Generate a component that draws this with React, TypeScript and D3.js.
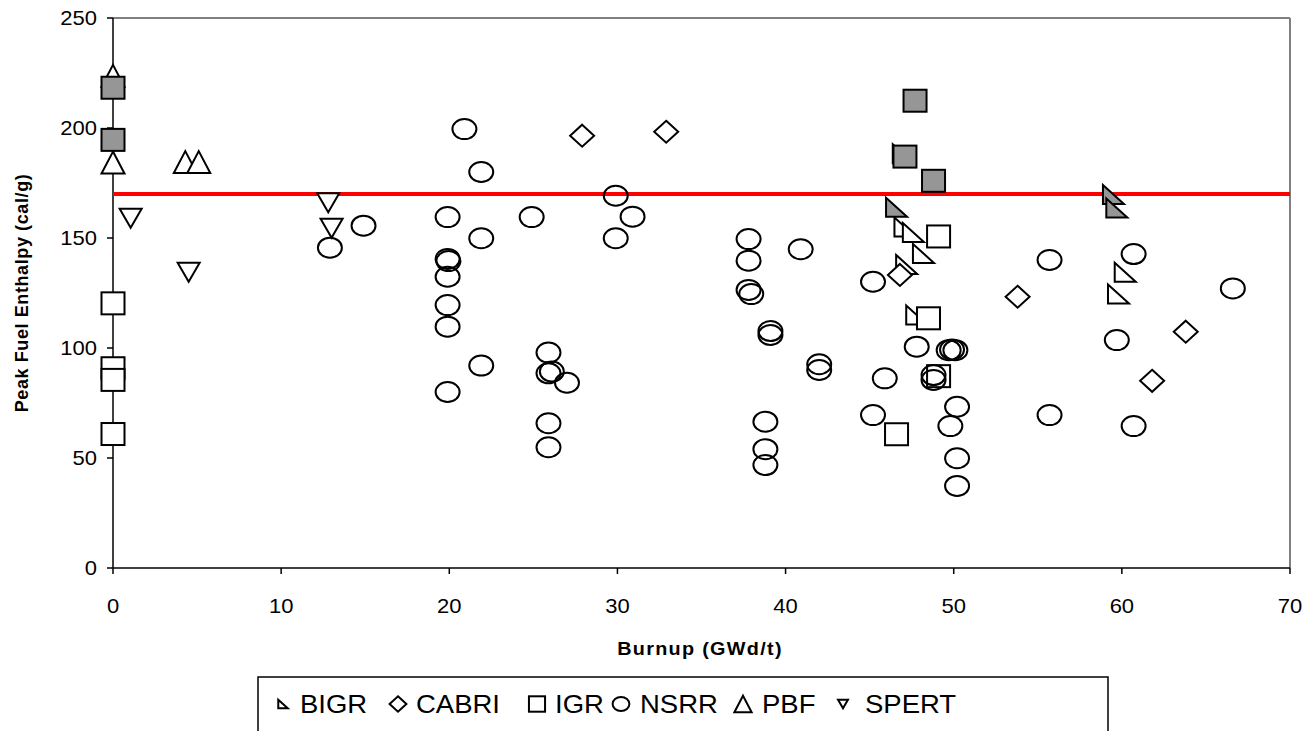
import React from 'react';
import * as d3 from 'd3';

type Pt = [number, number];

const xTicks = [0, 10, 20, 30, 40, 50, 60, 70];
const yTicks = [0, 50, 100, 150, 200, 250];
const limitValue = 170;
const xTitle = 'Burnup (GWd/t)';
const yTitle = 'Peak Fuel Enthalpy (cal/g)';
const seriesNames = ['BIGR', 'CABRI', 'IGR', 'NSRR', 'PBF', 'SPERT'];

const bigr: Pt[] = [
  [47.1, 155], [47.6, 152.5], [48.2, 143], [47.2, 138], [47.8, 115], [60.2, 134.4], [59.8, 124.5],
];
const bigrFail: Pt[] = [
  [47.0, 188.3], [46.6, 164], [59.5, 169.8], [59.7, 163.6],
];
const cabri: Pt[] = [
  [27.9, 196.5], [32.9, 198.3], [46.8, 133.2], [53.8, 123.3], [63.8, 107.4], [61.8, 85.1],
];
const igr: Pt[] = [
  [0, 120.3], [0, 90.8], [0, 85.5], [0, 60.9], [49.1, 150.7], [48.5, 113.5], [49.1, 87.2], [46.6, 60.8],
];
const igrFail: Pt[] = [
  [0, 218.3], [0, 194.6], [47.7, 212.4], [47.1, 187], [48.8, 176],
];
const nsrr: Pt[] = [
  [12.9, 145.6], [14.9, 155.6], [20.9, 199.5], [21.9, 180], [19.9, 159.5], [24.9, 159.5], [21.9, 149.9],
  [19.9, 140.5], [19.95, 139.5], [19.9, 132.4], [19.9, 119.5], [19.9, 109.7], [21.9, 92], [19.9, 80],
  [25.9, 97.9], [25.9, 88.5], [26.1, 89.3], [27.0, 84.2], [25.9, 65.8], [25.9, 54.9],
  [29.9, 169.2], [30.9, 159.7], [29.9, 149.9], [37.8, 149.5], [37.8, 139.7], [37.8, 126.4], [37.96, 124.5],
  [40.9, 144.9], [39.1, 107.7], [39.1, 105.9], [42.0, 92.6], [42.0, 90], [38.8, 66.5], [38.8, 54], [38.8, 46.8],
  [45.2, 130.1], [47.8, 100.6], [49.7, 99], [49.9, 99.3], [50.1, 99], [45.9, 86.2], [48.8, 87.7], [48.8, 85.5],
  [45.2, 69.5], [50.2, 73.3], [49.8, 64.5], [50.2, 49.9], [50.2, 37.3],
  [55.7, 140], [60.7, 142.7], [66.6, 127.1], [59.7, 103.6], [55.7, 69.5], [60.7, 64.5],
];
const pbf: Pt[] = [
  [0, 223.7], [0, 184.3], [4.3, 184.5], [5.1, 184.5],
];
const spert: Pt[] = [
  [1.05, 159], [12.8, 166], [13.0, 154.4], [4.5, 134.4],
];

const FONT = '"Liberation Sans", Arial, sans-serif';
const SW = 2;
const GRAY = '#969696';
const SX = 1.1;

function marker(kind: string, cx: number, cy: number, key: string | number, fill = 'white', scale = 1) {
  const s = scale;
  switch (kind) {
    case 'circle':
      return <ellipse key={key} cx={cx} cy={cy} rx={12 * s} ry={10 * s} fill="none" stroke="black" strokeWidth={SW} />;
    case 'square':
      return <rect key={key} x={cx - 11.5 * s} y={cy - 11 * s} width={23 * s} height={22 * s} fill={fill} stroke="black" strokeWidth={SW} />;
    case 'diamond':
      return <path key={key} d={`M${cx},${cy - 11 * s}L${cx + 12 * s},${cy}L${cx},${cy + 11 * s}L${cx - 12 * s},${cy}Z`} fill={fill} stroke="black" strokeWidth={SW} />;
    case 'up':
      return <path key={key} d={`M${cx},${cy - 11 * s}L${cx + 11.5 * s},${cy + 11 * s}L${cx - 11.5 * s},${cy + 11 * s}Z`} fill={fill} stroke="black" strokeWidth={SW} />;
    case 'down':
      return <path key={key} d={`M${cx - 11 * s},${cy - 9.5 * s}L${cx + 11 * s},${cy - 9.5 * s}L${cx},${cy + 9.5 * s}Z`} fill={fill} stroke="black" strokeWidth={SW} />;
    case 'right':
      return <path key={key} d={`M${cx - 10.5 * s},${cy - 9.5 * s}L${cx - 10.5 * s},${cy + 9.5 * s}L${cx + 10.5 * s},${cy + 9.5 * s}Z`} fill={fill} stroke="black" strokeWidth={SW} />;
  }
  return null;
}

export default function App() {
  const W = 1312, H = 731;
  const left = 113, right = 1290, top = 18, bottom = 568;
  const x = d3.scaleLinear().domain([0, 70]).range([left, right]);
  const y = d3.scaleLinear().domain([0, 250]).range([bottom, top]);

  const series: { data: Pt[]; kind: string; fill: string }[] = [
    { data: bigr, kind: 'right', fill: 'white' },
    { data: cabri, kind: 'diamond', fill: 'white' },
    { data: igr, kind: 'square', fill: 'white' },
    { data: nsrr, kind: 'circle', fill: 'none' },
    { data: pbf, kind: 'up', fill: 'white' },
    { data: spert, kind: 'down', fill: 'white' },
    { data: bigrFail, kind: 'right', fill: GRAY },
    { data: igrFail, kind: 'square', fill: GRAY },
  ];

  const legendItems = [
    { kind: 'right', scale: 0.45, mx: 283, tx: 300 },
    { kind: 'diamond', scale: 0.7, mx: 398, tx: 416 },
    { kind: 'square', scale: 0.7, mx: 537, tx: 555 },
    { kind: 'circle', scale: 0.7, mx: 621, tx: 640 },
    { kind: 'up', scale: 0.75, mx: 743, tx: 762 },
    { kind: 'down', scale: 0.45, mx: 843, tx: 865 },
  ];
  const legendY = 704;

  return (
    <div style={{ position: 'fixed', left: 0, top: 0, width: W, height: H, background: 'white' }}>
      <svg width={W} height={H} style={{ display: 'block' }} fontFamily={FONT}>
        <rect x={0} y={0} width={W} height={H} fill="white" />
        <line x1={left} y1={top} x2={right} y2={top} stroke="#808080" strokeWidth={2} />
        <line x1={right} y1={top} x2={right} y2={bottom} stroke="#808080" strokeWidth={2} />
        <line x1={left} y1={top} x2={left} y2={bottom} stroke="black" strokeWidth={1.5} />
        <line x1={left} y1={bottom} x2={right} y2={bottom} stroke="black" strokeWidth={1.5} />
        {yTicks.map((t) => (
          <g key={'yt' + t}>
            <line x1={left - 6} x2={left} y1={y(t)} y2={y(t)} stroke="black" strokeWidth={1.5} />
            <text transform={`translate(${left - 16},${y(t)}) scale(${SX},1)`} dy="0.36em" textAnchor="end" fontSize={20}>{t}</text>
          </g>
        ))}
        {xTicks.map((t) => (
          <g key={'xt' + t}>
            <line x1={x(t)} x2={x(t)} y1={bottom} y2={bottom + 6} stroke="black" strokeWidth={1.5} />
            <text transform={`translate(${x(t)},606) scale(${SX},1)`} dy="0.36em" textAnchor="middle" fontSize={20}>{t}</text>
          </g>
        ))}
        <text transform={`translate(700,649) scale(${SX},1)`} dy="0.36em" textAnchor="middle" fontSize={18} fontWeight="bold" letterSpacing={1.2}>{xTitle}</text>
        <text transform={`translate(22,${(top + bottom) / 2}) rotate(-90)`} dy="0.36em" textAnchor="middle" fontSize={18} fontWeight="bold" letterSpacing={0.6}>{yTitle}</text>

        <line x1={left} x2={right} y1={y(limitValue)} y2={y(limitValue)} stroke="#ff0000" strokeWidth={4} />

        {series.map((s, i) => (
          <g key={'s' + i}>
            {s.data.map((d, j) => marker(s.kind, x(d[0]), y(d[1]), j, s.fill))}
          </g>
        ))}

        <rect x={258} y={677} width={850} height={80} fill="white" stroke="black" strokeWidth={1.5} />
        {legendItems.map((li, i) => (
          <g key={'lg' + i}>
            {marker(li.kind, li.mx, legendY, 'm', li.kind === 'circle' ? 'none' : 'white', li.scale)}
            <text transform={`translate(${li.tx},${legendY}) scale(${SX},1)`} dy="0.36em" fontSize={25}>{seriesNames[i]}</text>
          </g>
        ))}
      </svg>
    </div>
  );
}
